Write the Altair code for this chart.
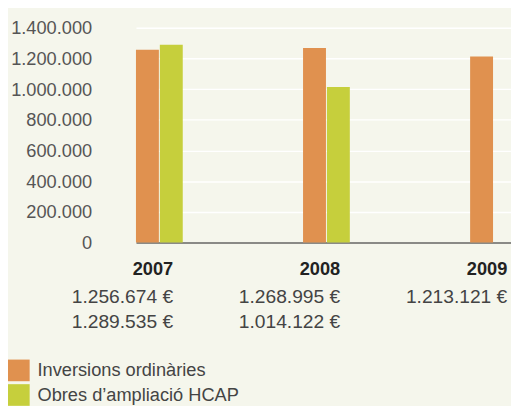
import altair as alt
import pandas as pd

FONT = "Liberation Sans"
years = ["2007", "2008", "2009"]
series = ["Inversions ordinàries", "Obres d’ampliació HCAP"]
inversions = [1256674, 1268995, 1213121]
obres = [1289535, 1014122, None]
colors = ["#e0914f", "#c6cf3c"]
y_ticks = [0, 200000, 400000, 600000, 800000, 1000000, 1200000, 1400000]

rows = []
for yr, a, b in zip(years, inversions, obres):
    rows.append({"year": yr, "series": series[0], "value": a})
    if b is not None:
        rows.append({"year": yr, "series": series[1], "value": b})
df = pd.DataFrame(rows)


def eur(v):
    return f"{v:,}".replace(",", ".") + " €" if v is not None else ""


lab = pd.DataFrame({
    "year": years,
    "inv": [eur(v) for v in inversions],
    "obr": [eur(v) for v in obres],
})

W, H = 419, 218

xenc = alt.X(
    "year:N", sort=years,
    scale=alt.Scale(range=[38, 425], paddingInner=0.72, paddingOuter=0),
    axis=alt.Axis(labels=False, ticks=False, title=None, grid=False,
                  domainColor="#8a8a86", domainWidth=2),
)

bars = alt.Chart(df).mark_bar().encode(
    x=xenc,
    xOffset=alt.XOffset("series:N", sort=series, scale=alt.Scale(domain=series, paddingInner=0.04)),
    y=alt.Y(
        "value:Q",
        scale=alt.Scale(domain=[0, 1400000], nice=False),
        axis=alt.Axis(
            values=y_ticks, title=None, ticks=False, domain=False,
            labelExpr="replace(replace(format(datum.value, ','), ',', '.'), ',', '.')",
            labelFontSize=18.5, labelColor="#555555", labelFont=FONT, labelPadding=7,
            gridColor="#ffffff", gridWidth=1.5,
        ),
    ),
    color=alt.Color(
        "series:N", sort=series,
        scale=alt.Scale(domain=series, range=colors),
        legend=alt.Legend(
            orient="none", legendX=-92, legendY=337, title=None,
            symbolType="square", symbolSize=484, symbolStrokeWidth=0, symbolOpacity=1,
            labelFontSize=18.5, labelColor="#444444", labelFont=FONT, labelLimit=0,
            labelOffset=8, rowPadding=3, padding=0,
        ),
    ),
)

xtext = alt.X("year:N", sort=years)

year_text = alt.Chart(lab).mark_text(
    align="right", baseline="middle", dx=14, fontSize=18.5, fontWeight="bold",
    color="#222222", font=FONT,
).encode(x=xtext, y=alt.value(245), text="year:N")

inv_text = alt.Chart(lab).mark_text(
    align="right", baseline="middle", dx=14, fontSize=19.5, color="#444444", font=FONT,
).encode(x=xtext, y=alt.value(274), text="inv:N")

obr_text = alt.Chart(lab).mark_text(
    align="right", baseline="middle", dx=14, fontSize=19.5, color="#444444", font=FONT,
).encode(x=xtext, y=alt.value(299), text="obr:N")

chart = alt.layer(bars, year_text, inv_text, obr_text).properties(
    width=W, height=H,
    padding={"left": 92, "top": 17, "right": 0, "bottom": 163},
    autosize=alt.AutoSizeParams(type="none"),
    background="#f5f6ec",
).configure_view(stroke=None)

chart.save("out.html", embed_options={"renderer": "svg", "actions": False})
